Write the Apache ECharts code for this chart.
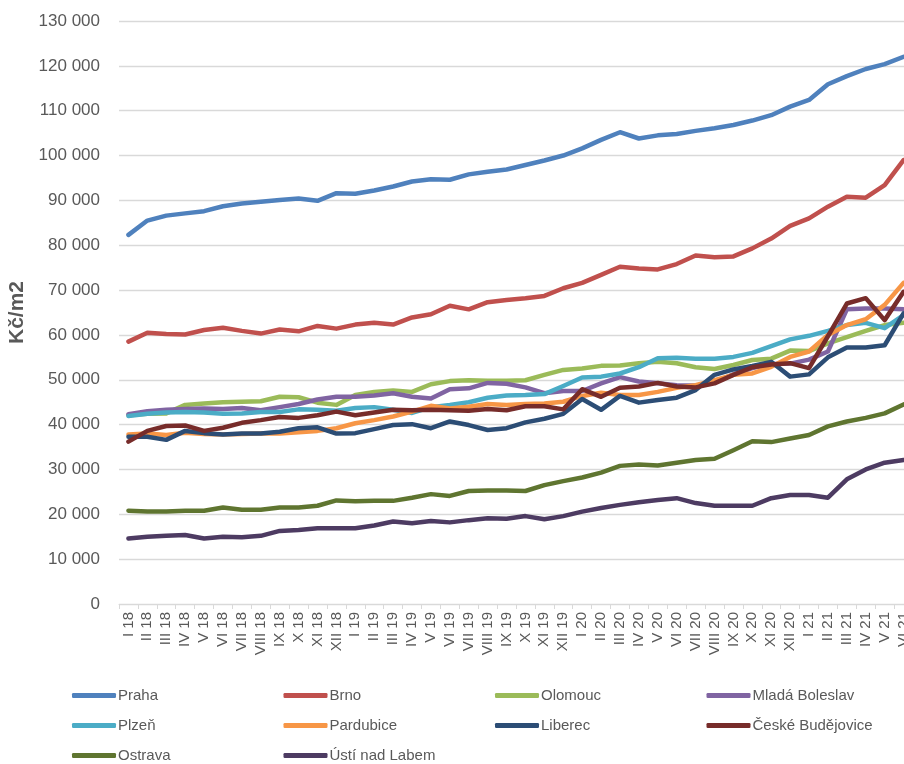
<!DOCTYPE html>
<html>
<head>
<meta charset="utf-8">
<title>Ceny bytů – Kč/m2</title>
<script src="https://cdn.jsdelivr.net/npm/echarts@6/dist/echarts.min.js"></script>
<style>
  html, body { margin: 0; padding: 0; background: #fff; }
  #chart { width: 904px; height: 764px; }
</style>
</head>
<body>
<div id="chart"></div>
<script>
// Monthly categories I 18 … VI 21
const months = ['I','II','III','IV','V','VI','VII','VIII','IX','X','XI','XII'];
const categories = [];
for (const yr of ['18','19','20','21']) {
  for (const m of months) categories.push(m + ' ' + yr);
}
categories.length = 42;

// Average price per m2 (Kč) by city
const praha = [82300,85500,86600,87100,87600,88700,89300,89700,90100,90400,89900,91600,91500,92200,93100,94200,94700,94600,95800,96400,96900,97900,98900,100000,101600,103500,105200,103800,104500,104800,105500,106100,106800,107800,109000,110900,112400,115900,117700,119300,120400,122000];
const brno = [58500,60500,60200,60100,61100,61600,60900,60300,61200,60800,62000,61400,62300,62700,62300,63900,64600,66500,65700,67300,67800,68200,68700,70400,71600,73400,75200,74800,74600,75800,77700,77300,77500,79300,81500,84300,86000,88600,90800,90600,93400,99000];
const olomouc = [42100,42400,42500,44400,44700,45000,45100,45200,46200,46100,44900,44400,46600,47300,47600,47300,49000,49700,49900,49800,49800,49900,51100,52200,52500,53100,53200,53700,54000,53700,52800,52400,53300,54400,54700,56500,56400,58100,59500,60900,62200,62700];
const mladaBoleslav = [42300,43000,43300,43500,43600,43500,43700,43200,43900,44600,45600,46200,46200,46500,47000,46200,45800,47900,48100,49300,49100,48300,47000,47500,47500,49200,50600,49600,49200,48800,48700,49500,51200,52600,53500,53600,54500,56300,65700,65900,65900,65700];
const plzen = [41900,42400,42700,42800,42700,42400,42500,42800,42800,43400,43300,43100,43700,43900,43300,42600,43900,44400,45000,46000,46500,46600,46800,48600,50500,50700,51400,52800,54800,54900,54700,54700,55100,56000,57500,59000,59800,60900,62200,62700,61500,64400];
const pardubice = [37800,38000,37700,38200,37900,37800,37900,38000,38000,38300,38600,39200,40300,41000,41800,42900,44200,43600,44000,44600,44400,44600,44700,45100,46400,47100,46600,46600,47300,48200,48800,49900,51100,51400,52900,55100,56300,60000,62200,63500,66700,71600];
const liberec = [37300,37300,36600,38600,38100,37800,38000,38000,38400,39200,39400,38000,38100,39000,39900,40100,39200,40700,39900,38800,39200,40500,41300,42400,45700,43300,46400,44900,45500,46000,47700,51100,52300,53100,54000,50700,51200,55000,57200,57200,57700,64800];
const ceskeBudejovice = [36200,38600,39700,39800,38600,39300,40400,41000,41700,41500,42100,42900,42100,42700,43300,43200,43300,43200,43100,43500,43200,44100,44100,43400,47900,46200,48200,48500,49300,48500,48300,49200,51100,52800,53400,53700,52600,59700,67000,68200,63300,69600];
const ostrava = [20800,20600,20600,20800,20800,21500,21000,21000,21500,21500,21900,23100,22900,23000,23000,23700,24500,24100,25200,25300,25300,25200,26500,27400,28200,29300,30800,31100,30900,31500,32100,32400,34300,36300,36100,36900,37700,39600,40700,41500,42500,44500];
const ustiNadLabem = [14600,15000,15200,15400,14600,15000,14900,15200,16300,16500,16900,16900,16900,17500,18400,18000,18500,18200,18700,19100,19000,19600,18900,19600,20600,21400,22100,22700,23200,23600,22500,21900,21900,21900,23600,24300,24300,23700,27800,30000,31500,32100];

const seriesNames = ['Praha','Brno','Olomouc','Mladá Boleslav','Plzeň','Pardubice','Liberec','České Budějovice','Ostrava','Ústí nad Labem'];
const seriesValues = [praha, brno, olomouc, mladaBoleslav, plzen, pardubice, liberec, ceskeBudejovice, ostrava, ustiNadLabem];
const seriesColors = ['#4F81BD','#C0504D','#9BBB59','#8064A2','#4BACC6','#F79646','#2C4D75','#772C2A','#5F7530','#4D3B62'];

// Axis tick labels
const yMax = 130000;
const yStep = 10000;
const fmtThousands = v => String(v).replace(/\B(?=(\d{3})+(?!\d))/g, ' ');

const FONT = '"Liberation Sans", Arial, sans-serif';
const TEXT = '#595959';

// One legend block per series, laid out in a 4-column grid
const legends = seriesNames.map((name, i) => ({
  data: [name],
  left: 67 + (i % 4) * 211.5,
  top: 683 + Math.floor(i / 4) * 30,
  icon: 'roundRect',
  itemWidth: 44,
  itemHeight: 5,
  itemGap: 0,
  selectedMode: false,
  textStyle: { fontFamily: FONT, fontSize: 15, color: TEXT, padding: [0, 0, 0, -3] }
}));

const chart = echarts.init(document.getElementById('chart'), null, { renderer: 'canvas' });
chart.setOption({
  animation: false,
  backgroundColor: '#ffffff',
  textStyle: { fontFamily: FONT },
  legend: legends,
  // plot area runs slightly past the right edge of the canvas
  grid: { left: 119, width: 794, top: 21, bottom: 160, containLabel: false, outerBoundsMode: 'none' },
  xAxis: {
    type: 'category',
    data: categories,
    boundaryGap: true,
    axisLine: { lineStyle: { color: '#d9d9d9', width: 1 } },
    axisTick: { show: true, length: 5, lineStyle: { color: '#d9d9d9' } },
    axisLabel: { interval: 0, rotate: 90, fontSize: 15, color: TEXT, margin: 8, fontFamily: FONT },
    splitLine: { show: false }
  },
  yAxis: {
    type: 'value',
    min: 0,
    max: yMax,
    interval: yStep,
    name: 'Kč/m2',
    nameLocation: 'middle',
    nameGap: 84,
    nameRotate: 90,
    nameTextStyle: { fontFamily: FONT, fontSize: 21, fontWeight: 'bold', color: TEXT },
    axisLine: { show: false },
    axisTick: { show: false },
    axisLabel: { fontSize: 17, color: TEXT, margin: 19, fontFamily: FONT, formatter: fmtThousands },
    splitLine: { lineStyle: { color: '#d9d9d9', width: 1.3 } }
  },
  series: seriesNames.map((name, i) => ({
    name: name,
    type: 'line',
    data: seriesValues[i],
    showSymbol: false,
    symbol: 'none',
    smooth: false,
    lineStyle: { width: 4.5, color: seriesColors[i], cap: 'round', join: 'round' },
    itemStyle: { color: seriesColors[i] }
  }))
});
</script>
</body>
</html>
